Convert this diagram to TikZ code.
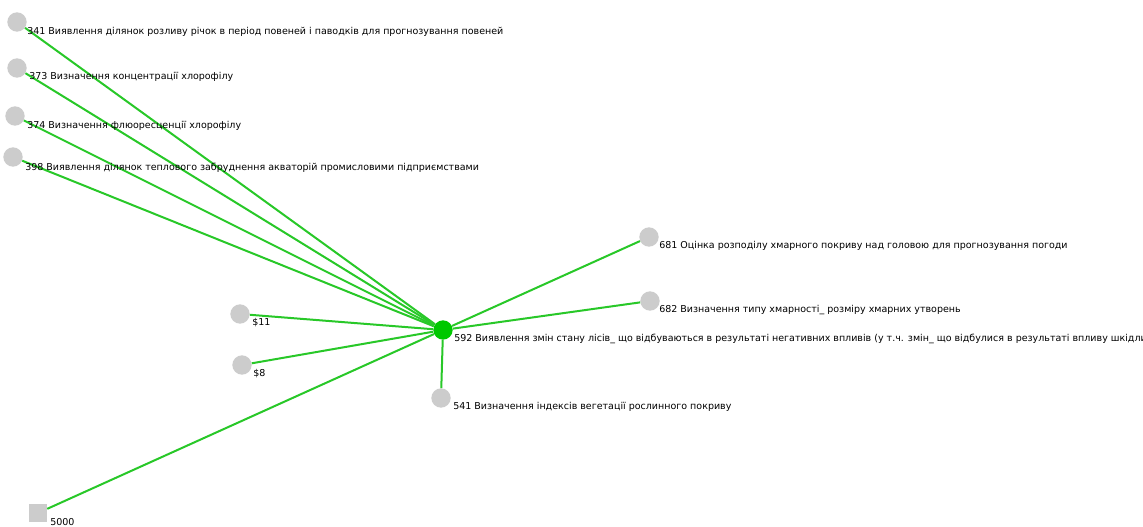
\documentclass[tikz,border=0pt]{standalone}
\usepackage{fontspec}
\setmainfont{DejaVu Sans}
\definecolor{edgegreen}{RGB}{40,200,40}
\definecolor{hubgreen}{RGB}{0,200,0}
\definecolor{nodegray}{RGB}{204,204,204}

\begin{document}
\begin{tikzpicture}[x=0.75pt, y=-0.75pt,
	dot/.style={circle, fill=nodegray, inner sep=0pt, minimum size=14.5pt},
	box/.style={rectangle, fill=nodegray, inner sep=0pt, minimum size=13.5pt},
	hub/.style={circle, fill=hubgreen, inner sep=0pt, minimum size=14.5pt},
	lbl/.style={anchor=west, inner sep=0pt, font=\fontsize{7.13pt}{8pt}\selectfont},
	link/.style={draw=edgegreen, line width=1.5pt}]
	% Frame of the picture (label of the hub runs past the right edge, as in the original)
	\clip (0,0) rectangle (1143,527);
	\fill[white] (0,0) rectangle (1143,527);
	% Specification of nodes (position, etc.)
	\node (Hub)		[hub]	at (443,330)	{};
	\node (Item341)	[dot]	at (17,22)		{};
	\node (Item373)	[dot]	at (17,68)		{};
	\node (Item374)	[dot]	at (15,116)		{};
	\node (Item398)	[dot]	at (13,157)		{};
	\node (Item681)	[dot]	at (649,237)	{};
	\node (Item682)	[dot]	at (650,301)	{};
	\node (Item541)	[dot]	at (441,398)	{};
	\node (ItemS11)	[dot]	at (240,314)	{};
	\node (ItemS8)	[dot]	at (242,365)	{};
	\node (Item5000)	[box]	at (38,513)		{};
	% Connections from the hub
	\foreach \n in {Item341, Item373, Item374, Item398, Item681, Item682, Item541, ItemS11, ItemS8, Item5000}
		\draw[link] (Hub) -- (\n);
	% Labels
	\node (Text341)	[lbl]	at ([shift={(10,10)}]Item341)	{341 Виявлення ділянок розливу річок в період повеней і паводків для прогнозування повеней};
	\node (Text373)	[lbl]	at ([shift={(12,9)}]Item373)	{373 Визначення концентрації хлорофілу};
	\node (Text374)	[lbl]	at ([shift={(12,10)}]Item374)	{374 Визначення флюоресценції хлорофілу};
	\node (Text398)	[lbl]	at ([shift={(12,11)}]Item398)	{398 Виявлення ділянок теплового забруднення акваторій промисловими підприємствами};
	\node (Text681)	[lbl]	at ([shift={(10,9)}]Item681)	{681 Оцінка розподілу хмарного покриву над головою для прогнозування погоди};
	\node (Text682)	[lbl]	at ([shift={(9,9)}]Item682)		{682 Визначення типу хмарності\_ розміру хмарних утворень};
	\node (Text592)	[lbl]	at ([shift={(11,9)}]Hub)		{592 Виявлення змін стану лісів\_ що відбуваються в результаті негативних впливів (у т.ч. змін\_ що відбулися в результаті впливу шкідливих};
	\node (Text541)	[lbl]	at ([shift={(12,9)}]Item541)	{541 Визначення індексів вегетації рослинного покриву};
	\node (TextS11)	[lbl]	at ([shift={(12,9)}]ItemS11)	{\$11};
	\node (TextS8)	[lbl]	at ([shift={(11,9)}]ItemS8)		{\$8};
	\node (Text5000)	[lbl]	at ([shift={(12,9)}]Item5000)	{5000};
\end{tikzpicture}
\end{document}
